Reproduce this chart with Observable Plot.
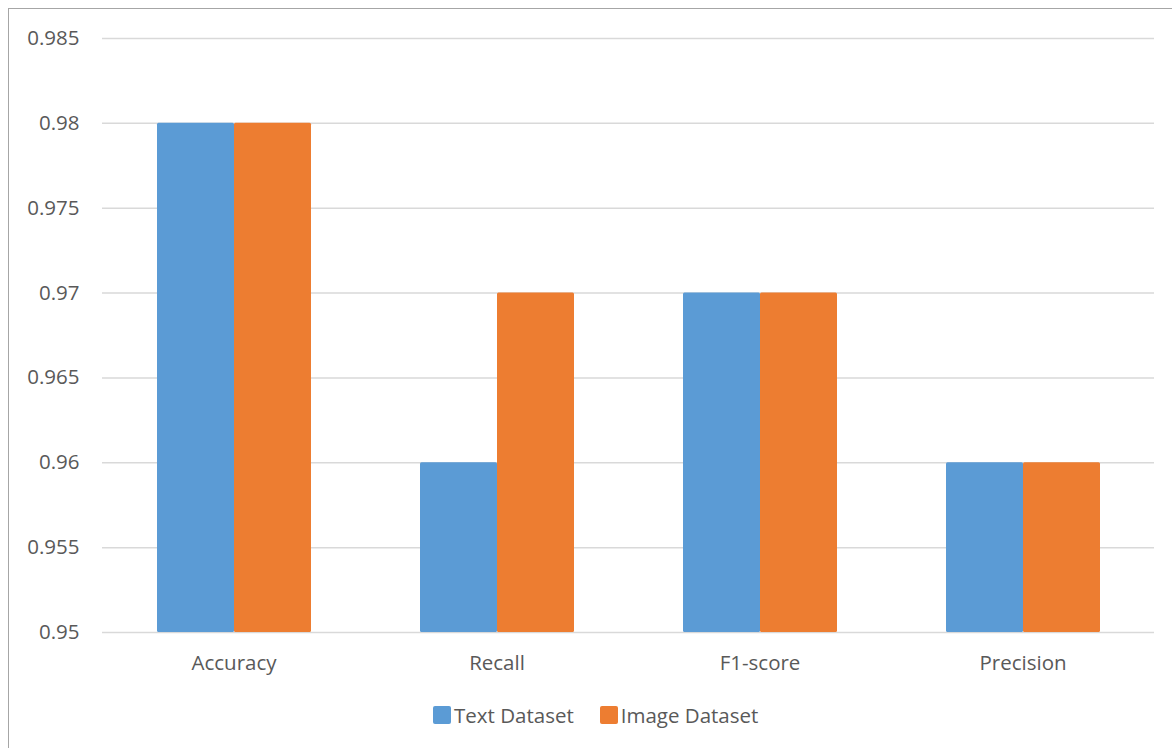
<!DOCTYPE html>
<html>
<head>
<meta charset="utf-8">
<script src="https://cdn.jsdelivr.net/npm/d3@7"></script>
<script src="https://cdn.jsdelivr.net/npm/@observablehq/plot@0.6"></script>
<style>
  html, body { margin: 0; padding: 0; background: #fff; }
  body { width: 1172px; height: 748px; position: relative; overflow: hidden; font-family: "Open Sans", sans-serif; }
  #frame { position: absolute; left: 8px; top: 8px; width: 1200px; height: 800px; border: 1.5px solid #a6a6a6; box-sizing: border-box; }
  #chart { position: absolute; left: 0; top: 0; }
  #legend { position: absolute; left: 433px; top: 701px; display: flex; align-items: center; font-size: 20.5px; color: #595959; }
  .item { display: flex; align-items: center; margin-right: 26px; }
  .swatch { width: 18px; height: 18px; border-radius: 2px; margin-right: 3px; }
</style>
</head>
<body>
<div id="frame"></div>
<div id="chart"></div>
<div id="legend"></div>
<script>
// Metrics on the horizontal axis
const metrics = ["Accuracy", "Recall", "F1-score", "Precision"];
// Series and their scores per metric
const seriesNames = ["Text Dataset", "Image Dataset"];
const textScores = [0.98, 0.96, 0.97, 0.96];
const imageScores = [0.98, 0.97, 0.97, 0.96];
const seriesColors = ["#5B9BD5", "#ED7D31"];
const yTicks = [0.95, 0.955, 0.96, 0.965, 0.97, 0.975, 0.98, 0.985];

const rows = metrics.flatMap((m, i) => [
  {metric: m, series: seriesNames[0], value: textScores[i]},
  {metric: m, series: seriesNames[1], value: imageScores[i]}
]);

const chart = Plot.plot({
  width: 1172,
  height: 690,
  marginLeft: 102,
  marginRight: 18,
  marginTop: 38,
  marginBottom: 58,
  style: {fontFamily: "'Open Sans', sans-serif", fontSize: "20.5px", color: "#595959", background: "transparent"},
  fx: {domain: metrics, paddingInner: 0, paddingOuter: 0, label: null, axis: null},
  x: {domain: seriesNames, paddingInner: 0, paddingOuter: 0.69, axis: null},
  y: {domain: [0.95, 0.985], ticks: yTicks, label: null},
  color: {domain: seriesNames, range: seriesColors},
  marks: [
    Plot.ruleY(yTicks, {stroke: "#d9d9d9", strokeWidth: 1.5}),
    Plot.axisY({ticks: yTicks, tickSize: 0, tickPadding: 23, tickFormat: d => String(+d.toFixed(3)), label: null, fontSize: 20.5}),
    Plot.axisFx({anchor: "bottom", tickSize: 0, tickPadding: 23, label: null, fontSize: 20.5}),
    Plot.barY(rows, {fx: "metric", x: "series", y1: 0.95, y2: "value", fill: "series", rx: 1.5})
  ]
});
document.getElementById("chart").appendChild(chart);

const legend = document.getElementById("legend");
seriesNames.forEach((name, i) => {
  const item = document.createElement("div");
  item.className = "item";
  const sw = document.createElement("div");
  sw.className = "swatch";
  sw.style.background = seriesColors[i];
  const label = document.createElement("span");
  label.textContent = name;
  item.appendChild(sw);
  item.appendChild(label);
  legend.appendChild(item);
});
</script>
</body>
</html>
